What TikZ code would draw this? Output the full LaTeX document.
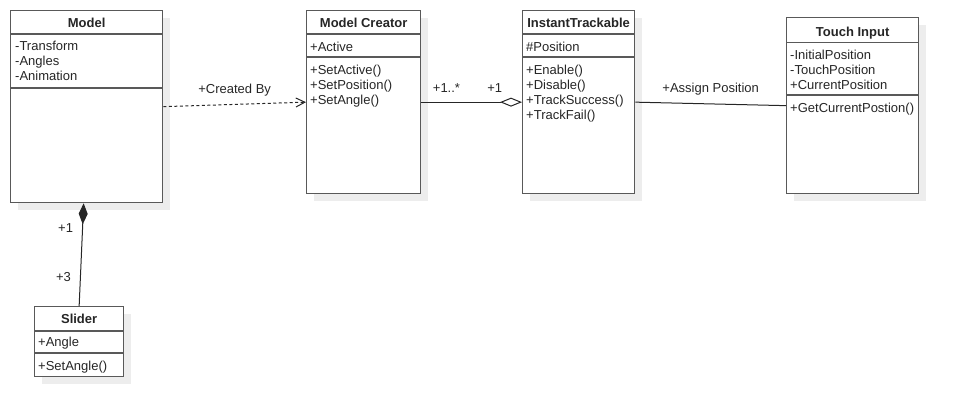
\documentclass[tikz,border=0pt]{standalone}
\usepackage{fontspec}
\setmainfont{Liberation Sans}
\usepackage{tikz}
\usetikzlibrary{arrows.meta}
\usetikzlibrary{shadows}
\usetikzlibrary{positioning}

\tikzset{
    classbox/.style={draw=black!65, line width=1.3pt, fill=white,
        anchor=north west, inner sep=0pt,
        drop shadow={shadow xshift=7pt, shadow yshift=-7pt,
            fill=black!7, opacity=1}},
    classname/.style={font=\fontsize{13}{15}\selectfont\bfseries,
        inner sep=0pt, anchor=base, text=black!85},
    members/.style={font=\fontsize{13}{15}\selectfont, align=left,
        anchor=north west, inner sep=0pt, text=black!85},
    divider/.style={draw=black!65, line width=1.3pt},
    role/.style={font=\fontsize{13}{15}\selectfont, inner sep=0pt,
        text=black!85},
    link/.style={draw=black!85, line width=1pt}
}

\begin{document}
\begin{tikzpicture}[x=1pt, y=-1pt]

    \useasboundingbox (0,0) rectangle (958,416);

    % class boxes
    \node[classbox, minimum width=152pt, minimum height=192pt] (model) at (10,10) {};
    \node[classbox, minimum width=114pt, minimum height=183pt] (creator) at (306,10) {};
    \node[classbox, minimum width=112pt, minimum height=183pt] (track) at (522,10) {};
    \node[classbox, minimum width=132pt, minimum height=176pt] (touch) at (786,17) {};
    \node[classbox, minimum width=89pt, minimum height=70pt] (slider) at (34,306) {};

    % compartments
    \draw[divider] ([yshift=-24pt]model.north west) -- ([yshift=-24pt]model.north east);
    \draw[divider] ([yshift=-78pt]model.north west) -- ([yshift=-78pt]model.north east);
    \draw[divider] ([yshift=-24pt]creator.north west) -- ([yshift=-24pt]creator.north east);
    \draw[divider] ([yshift=-47pt]creator.north west) -- ([yshift=-47pt]creator.north east);
    \draw[divider] ([yshift=-24pt]track.north west) -- ([yshift=-24pt]track.north east);
    \draw[divider] ([yshift=-47pt]track.north west) -- ([yshift=-47pt]track.north east);
    \draw[divider] ([yshift=-25.5pt]touch.north west) -- ([yshift=-25.5pt]touch.north east);
    \draw[divider] ([yshift=-78pt]touch.north west) -- ([yshift=-78pt]touch.north east);
    \draw[divider] ([yshift=-25pt]slider.north west) -- ([yshift=-25pt]slider.north east);
    \draw[divider] ([yshift=-47pt]slider.north west) -- ([yshift=-47pt]slider.north east);

    % names
    \node[classname] (modelN) at ([yshift=-17pt]model.north) {Model};
    \node[classname] (creatorN) at ([yshift=-17pt]creator.north) {Model Creator};
    \node[classname] (trackN) at ([yshift=-17pt]track.north) {InstantTrackable};
    \node[classname] (touchN) at ([yshift=-19pt]touch.north) {Touch Input};
    \node[classname] (sliderN) at ([yshift=-17pt]slider.north) {Slider};

    % attributes and operations
    \node[members] (modelA) at ([shift={(5pt,-30.5pt)}]model.north west)
    {-Transform\\-Angles\\-Animation};
    \node[members] (creatorA) at ([shift={(4pt,-31.5pt)}]creator.north west)
    {+Active};
    \node[members] (creatorO) at ([shift={(4pt,-54.5pt)}]creator.north west)
    {+SetActive()\\+SetPosition()\\+SetAngle()};
    \node[members] (trackA) at ([shift={(4pt,-31.5pt)}]track.north west)
    {\#Position};
    \node[members] (trackO) at ([shift={(4pt,-54.5pt)}]track.north west)
    {+Enable()\\+Disable()\\+TrackSuccess()\\+TrackFail()};
    \node[members] (touchA) at ([shift={(4pt,-32.5pt)}]touch.north west)
    {-InitialPosition\\-TouchPosition\\+CurrentPosition};
    \node[members] (touchO) at ([shift={(4pt,-85.5pt)}]touch.north west)
    {+GetCurrentPostion()};
    \node[members] (sliderA) at ([shift={(4pt,-31pt)}]slider.north west)
    {+Angle};
    \node[members] (sliderO) at ([shift={(4pt,-54.5pt)}]slider.north west)
    {+SetAngle()};

    % associations
    \begin{scope}[link]
        \draw[dash pattern=on 3pt off 2.5pt,
            -{Straight Barb[length=9pt, width=9pt]}]
            (model.east) -- node[role, anchor=base, yshift=10.5pt] (created) {+Created By}
            (creator.west);
        \draw[-{Diamond[open, length=22pt, width=9pt]}]
            (creator.east)
            -- node[role, pos=.25, anchor=base, yshift=9.5pt] (many) {+1..*}
               node[role, pos=.73, anchor=base, yshift=9.5pt] (one) {+1}
            (track.west);
        \draw (track.east) -- node[role, anchor=base, yshift=11pt] (assign) {+Assign Position}
            (touch.west);
        \draw[{Diamond[length=21pt, width=9pt]}-]
            ([xshift=-3pt]model.south)
            -- node[role, pos=.245, left=9pt] (whole) {+1}
               node[role, pos=.72, left=9pt] (parts) {+3}
            (slider.north);
    \end{scope}

\end{tikzpicture}
\end{document}
